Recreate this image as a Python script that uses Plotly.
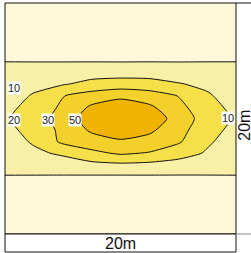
import numpy as np
import plotly.graph_objects as go

# grid coordinates (metres)
x_m = [0, 2.5, 5, 7.5, 10, 12.5, 15, 17.5, 20]
y_m = [0, 2.5, 5, 6, 7, 8, 9, 10, 11, 12, 13, 14, 15, 17.5, 20]

# measured values, one row per y (bottom to top)
z_rows = [
    [5, 5, 5, 5, 5, 5, 5, 5, 5],
    [6, 6, 6, 6, 6, 6, 6, 6, 6],
    [9.8, 9.6, 9.4, 9.2, 9.1, 9.2, 9.3, 9.5, 9.8],
    [12, 13.8, 15.3, 17.2, 18.2, 17.5, 16, 14.3, 12],
    [13.8, 18.1, 21.5, 27.6, 32.8, 29.3, 24.4, 19, 13.8],
    [15.5, 21.1, 34, 41.2, 47.2, 43.2, 32.6, 21.4, 15.5],
    [17.5, 23, 35, 54.5, 67.4, 55.4, 37.6, 23.2, 17.5],
    [19, 25, 37.8, 66.8, 89, 66.5, 42.8, 25, 19],
    [17.5, 22.9, 33.6, 54.5, 67.4, 54.8, 36.2, 23.1, 17.5],
    [15.5, 20.8, 29.5, 37.8, 44.6, 39, 29.6, 21.1, 15.5],
    [13.8, 17.2, 19.0, 22.8, 24.0, 23.5, 20.5, 18.0, 13.8],
    [12, 13.5, 14.4, 15.6, 16, 15.8, 15, 13.9, 12],
    [9.8, 9.6, 9.5, 9.4, 9.3, 9.4, 9.4, 9.6, 9.8],
    [6, 6, 6, 6, 6, 6, 6, 6, 6],
    [5, 5, 5, 5, 5, 5, 5, 5, 5],
]

levels = [10, 20, 30, 50]
band_colors = ["#fef8d9", "#f9f0a8", "#f5e04a", "#f4d02a", "#f0b400"]

label_texts = ["10", "20", "30", "50", "10"]
label_x = [0.82, 0.82, 3.68, 6.02, 19.35]
label_y = [12.64, 9.83, 9.83, 9.83, 10.04]

# map values onto level index so non-uniform levels become evenly spaced
z = np.array(z_rows, dtype=float)
breaks = [0] + levels + [80, 110]
t = np.interp(z, breaks, np.arange(len(breaks)))

n = len(band_colors)
colorscale = [[i / (n - 1), c] for i, c in enumerate(band_colors)]

fig = go.Figure(go.Contour(
    x=x_m, y=y_m, z=t,
    contours=dict(start=1, end=len(levels), size=1, coloring="fill"),
    colorscale=colorscale,
    showscale=False,
    line=dict(color="#111111", width=1, smoothing=0.6),
    hoverinfo="skip",
))

for txt, lx, ly in zip(label_texts, label_x, label_y):
    fig.add_annotation(x=lx, y=ly, text=txt, showarrow=False,
                       font=dict(size=11, color="#222222", family="Liberation Sans, Arial"),
                       bgcolor="white", borderpad=0)

shapes = [
    dict(type="rect", xref="paper", yref="paper", x0=0, x1=1, y0=0, y1=1,
         line=dict(color="#111111", width=1)),
    dict(type="rect", xref="paper", yref="paper", x0=0, x1=1, y0=-0.078, y1=0,
         line=dict(color="#111111", width=1), fillcolor="white"),
    dict(type="line", xref="paper", yref="paper", x0=1, x1=1.07, y0=1, y1=1,
         line=dict(color="#111111", width=1)),
    dict(type="line", xref="paper", yref="paper", x0=1, x1=1.07, y0=0, y1=0,
         line=dict(color="#888888", width=1)),
]
fig.update_layout(shapes=shapes)

fig.add_annotation(xref="paper", yref="paper", x=0.5, y=-0.039, text="20m",
                   showarrow=False, font=dict(size=16, color="#111111", family="Liberation Sans, Arial"),
                   yanchor="middle")
fig.add_annotation(xref="paper", yref="paper", x=1.036, y=0.47, text="20m", textangle=-90,
                   showarrow=False, font=dict(size=16, color="#111111", family="Liberation Sans, Arial"),
                   xanchor="center", yanchor="middle")

fig.update_xaxes(range=[0, 20], showticklabels=False, showgrid=False, zeroline=False, ticks="")
fig.update_yaxes(range=[0, 20], showticklabels=False, showgrid=False, zeroline=False, ticks="")
fig.update_layout(width=251, height=253, margin=dict(l=5, r=15, t=3, b=19),
                  paper_bgcolor="white", plot_bgcolor="white", showlegend=False)

fig.write_html("out.html", config={"displayModeBar": False},
               post_script="document.body.style.margin='0';document.body.style.overflow='hidden';")
